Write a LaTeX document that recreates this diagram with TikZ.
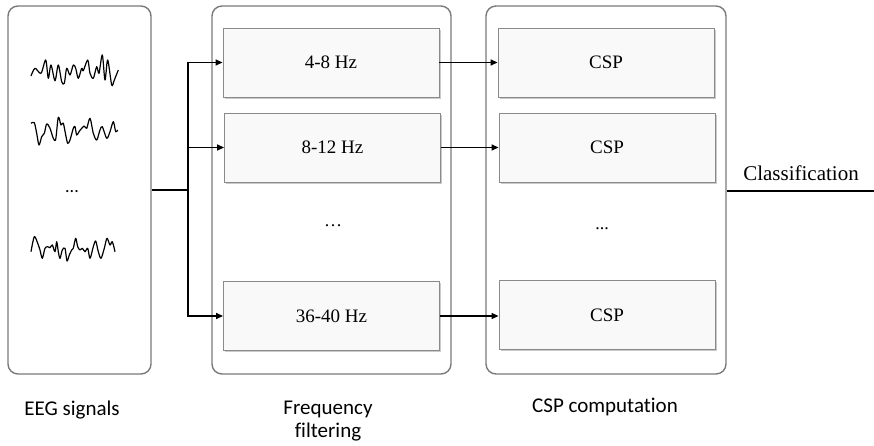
\documentclass[tikz,border=0pt]{standalone}
\usepackage{fontspec}
\setmainfont{Liberation Serif}
\newfontfamily\calfont[Ligatures={NoCommon,NoDiscretionary,NoContextual}]{Carlito}
\usetikzlibrary{arrows.meta,shadows}
\definecolor{panelgray}{HTML}{7A7A7A}
\definecolor{boxgray}{HTML}{8A8A8A}
\definecolor{boxfill}{HTML}{F9F9F9}
\begin{document}
\begin{tikzpicture}[x=1pt,y=-1pt,
  panel/.style={draw=panelgray, line width=1.4pt, rounded corners=10pt, minimum height=368pt, inner sep=0pt},
  band/.style={draw=boxgray, line width=0.9pt, fill=boxfill, minimum width=216pt, minimum height=69pt, inner sep=0pt,
    drop shadow={shadow xshift=1.5pt, shadow yshift=-1.8pt, opacity=0.35, fill=black!60}, font=\fontsize{19}{21}\selectfont},
  link/.style={line width=1.4pt, draw=black},
  arr/.style={link, -{Triangle[length=7pt,width=6pt]}},
  captext/.style={font=\calfont\fontsize{21}{25}\selectfont, align=center},
  wave/.style={line width=1.2pt, line join=round}]
\useasboundingbox (0,0) rectangle (874,446);
% panels
\node[panel, minimum width=143pt] (eeg) at (79.5,190) {};
\node[panel, minimum width=239pt] (freq) at (331.5,190) {};
\node[panel, minimum width=240pt] (csp) at (606,190) {};
% filter bands
\node[band] (f1) at (331,62.5) {4-8 Hz};
\node[band] (f2) at (332.5,147.5) {8-12 Hz};
\node[band] (f3) at (331.5,316) {36-40 Hz};
% csp boxes
\node[band] (c1) at (606,62.5) {CSP};
\node[band] (c2) at (607,147.5) {CSP};
\node[band] (c3) at (607,315) {CSP};
% ellipses
\node[font=\calfont\fontsize{18}{20}\selectfont] (d1) at (72,192) {...};
\node[font=\fontsize{18}{20}\selectfont] (d2) at (333,226) {\dots};
\node[font=\fontsize{18}{20}\selectfont] (d3) at (602,229) {...};
% waveforms
\draw[wave] plot[smooth, tension=0.5] coordinates {(31,76) (35,68.3) (41,73.3) (45.7,60) (48.3,78.3) (51,65) (55,80.7) (58.3,65) (61.7,81.7) (64.3,83.3) (66.7,68.3) (70,75) (73.3,65) (75.7,68.3) (78.3,78.3) (81.7,68.3) (83.3,70.7) (87.7,60) (90,73.3) (93.3,78.3) (96.7,66.7) (99,73.3) (102.3,55) (105,80) (107.7,60) (111.7,85) (114.3,80) (118.3,70)};
\draw[wave] plot[smooth, tension=0.5] coordinates {(31,123.3) (34.3,122.7) (36.7,133.3) (39,145) (41.7,136.7) (44.3,133.3) (46.7,124) (50,128.3) (53.3,138.3) (55.7,139.3) (58.3,117.3) (61,125) (63.3,123.3) (65.7,135) (67.7,143.3) (70,140) (73.3,128.3) (75,126.7) (76.7,135) (79,131.7) (81.7,128.3) (84.3,126) (86.7,128.3) (90,118.3) (93.3,133.3) (96.7,140) (100,130) (102.3,126.7) (106.7,138.3) (110,131.7) (113.3,121.7) (115.7,131.7) (117.7,130)};
\draw[wave] plot[smooth, tension=0.5] coordinates {(31,251.7) (34.3,236.7) (37.7,243.3) (40,250) (42.3,258.3) (45,248.3) (47.7,246.7) (50,247.7) (52.3,245) (55,251.7) (56.7,241.7) (58.3,251.7) (60,258.3) (62.3,250) (65,248.3) (67,261) (69.3,255) (71.7,250) (73.3,248.3) (75.7,238.3) (77.7,246.7) (80,250) (82.3,248.3) (85,251.7) (87.7,248.3) (90,258.3) (93.3,246.7) (95.7,241) (98.3,251.7) (101,258.3) (104.3,248.3) (107,238.3) (110,245) (112.3,241.7) (115,251.7)};
% connectors
\coordinate (split) at (188,190);
\draw[link] (eeg.east) -- (split);
\draw[arr] (split) |- (f1.west);
\draw[arr] (split) |- (f2.west);
\draw[arr] (split) |- (f3.west);
\draw[arr] (f1.east) -- (f1.east -| c1.west);
\draw[arr] (f2.east) -- (f2.east -| c2.west);
\draw[arr] (f3.east) -- (f3.east -| c3.west);
\coordinate (out) at (874,191);
\draw[link] (csp.east |- out) -- (out);
\node[font=\fontsize{21}{24}\selectfont] (cls) at (801,173) {Classification};
% captions
\node[captext] (l1) at (72,410) {EEG signals};
\node[captext] (l2) at (328,421) {Frequency\\[-2pt]filtering};
\node[captext] (l3) at (605,407) {CSP computation};
\end{tikzpicture}
\end{document}
